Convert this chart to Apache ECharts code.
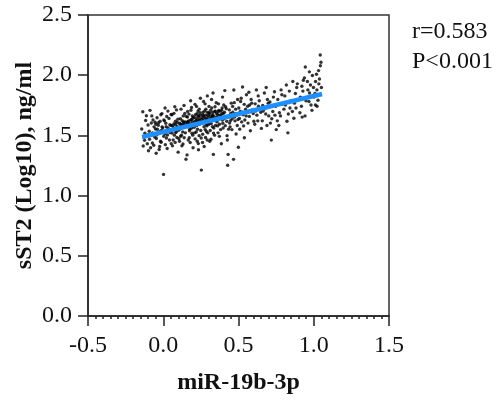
<!DOCTYPE html>
<html>
<head>
<meta charset="utf-8">
<script src="https://cdn.jsdelivr.net/npm/echarts@6/dist/echarts.min.js"></script>
<style>
html,body{margin:0;padding:0;background:#fff;}
#chart{width:499px;height:402px;}
</style>
</head>
<body>
<div id="chart"></div>
<script>
// miR-19b-3p (x) vs sST2 Log10 (y)
var points = [
[-0.143,1.553],[-0.128,1.482],[-0.117,1.624],[-0.136,1.697],[-0.106,1.431],[-0.122,1.518],[-0.101,1.586],[-0.133,1.412],[-0.112,1.663],[-0.124,1.459],[-0.097,1.507],
[-0.088,1.708],[-0.079,1.603],[-0.072,1.437],[-0.093,1.534],[-0.061,1.571],[-0.084,1.398],[-0.068,1.628],[-0.057,1.487],[-0.091,1.468],[-0.052,1.553],[-0.076,1.662],[-0.063,1.418],[-0.071,1.521],[-0.054,1.609],[-0.098,1.372],
[-0.044,1.503],[-0.033,1.584],[-0.018,1.452],[-0.041,1.647],[-0.012,1.541],[-0.027,1.383],[-0.021,1.617],[-0.046,1.474],[-0.004,1.562],[-0.009,1.681],[-0.036,1.518],[-0.024,1.408],[-0.049,1.593],[0.003,1.492],[-0.014,1.443],[-0.039,1.551],[-0.016,1.672],[-0.031,1.606],[0.004,1.628],[-0.047,1.352],
[0.012,1.728],[0.002,1.176],[0.019,1.572],[0.028,1.503],[0.008,1.621],[0.041,1.462],[0.023,1.657],[0.034,1.534],[0.044,1.588],[0.014,1.423],[0.049,1.547],[0.021,1.478],[0.031,1.702],[0.038,1.641],[0.011,1.512],[0.053,1.432],[0.017,1.601],[0.026,1.391],[0.046,1.523],[0.052,1.673],[0.024,1.541],
[0.061,1.413],[0.072,1.598],[0.083,1.524],[0.058,1.671],[0.091,1.483],[0.069,1.562],[0.097,1.634],[0.079,1.442],[0.063,1.581],[0.088,1.712],[0.074,1.502],[0.102,1.543],[0.081,1.618],[0.066,1.462],[0.094,1.572],[0.099,1.361],[0.071,1.683],[0.086,1.531],[0.093,1.607],[0.059,1.519],[0.104,1.472],[0.077,1.738],
[0.112,1.593],[0.121,1.502],[0.133,1.662],[0.108,1.451],[0.142,1.574],[0.118,1.718],[0.129,1.529],[0.148,1.612],[0.114,1.638],[0.139,1.481],[0.123,1.563],[0.131,1.428],[0.151,1.302],[0.143,1.682],[0.106,1.551],[0.126,1.622],[0.136,1.583],[0.147,1.521],[0.138,1.748],[0.116,1.493],[0.124,1.413],[0.134,1.601],[0.153,1.658],
[0.158,1.338],[0.168,1.621],[0.177,1.552],[0.162,1.698],[0.186,1.594],[0.173,1.481],[0.197,1.643],[0.182,1.788],[0.164,1.572],[0.191,1.518],[0.171,1.677],[0.179,1.441],[0.201,1.583],[0.159,1.608],[0.188,1.732],[0.174,1.539],[0.183,1.628],[0.196,1.502],[0.166,1.462],[0.193,1.661],[0.169,1.592],[0.184,1.709],[0.198,1.398],[0.189,1.561],[0.161,1.652],
[0.208,1.613],[0.219,1.528],[0.231,1.702],[0.212,1.471],[0.242,1.639],[0.223,1.582],[0.247,1.808],[0.228,1.551],[0.214,1.672],[0.238,1.498],[0.221,1.741],[0.251,1.603],[0.233,1.432],[0.206,1.568],[0.244,1.689],[0.217,1.622],[0.249,1.541],[0.236,1.663],[0.211,1.758],[0.241,1.592],[0.226,1.452],[0.253,1.212],[0.229,1.628],[0.239,1.718],[0.209,1.521],[0.224,1.681],[0.252,1.479],[0.234,1.381],
[0.258,1.648],[0.271,1.572],[0.283,1.718],[0.262,1.509],[0.291,1.633],[0.268,1.782],[0.302,1.591],[0.279,1.548],[0.264,1.692],[0.293,1.828],[0.274,1.612],[0.298,1.668],[0.281,1.482],[0.256,1.601],[0.287,1.532],[0.276,1.703],[0.304,1.741],[0.284,1.638],[0.261,1.441],[0.289,1.579],[0.269,1.662],[0.296,1.521],[0.278,1.762],[0.266,1.618],[0.294,1.691],[0.272,1.408],[0.301,1.622],[0.286,1.593],[0.292,1.462],
[0.308,1.682],[0.319,1.598],[0.331,1.852],[0.312,1.541],[0.338,1.658],[0.322,1.728],[0.349,1.621],[0.327,1.572],[0.314,1.708],[0.341,1.502],[0.324,1.642],[0.352,1.771],[0.333,1.342],[0.306,1.603],[0.343,1.698],[0.317,1.468],[0.347,1.583],[0.329,1.671],[0.311,1.632],[0.336,1.562],[0.321,1.798],[0.354,1.682],[0.334,1.519],[0.344,1.738],[0.309,1.451],[0.326,1.661],
[0.358,1.612],[0.369,1.708],[0.381,1.548],[0.362,1.672],[0.392,1.628],[0.373,1.492],[0.402,1.752],[0.384,1.661],[0.361,1.579],[0.394,1.818],[0.371,1.643],[0.398,1.562],[0.378,1.702],[0.364,1.521],[0.389,1.681],[0.374,1.592],[0.404,1.638],[0.386,1.431],[0.391,1.728],[0.367,1.762],[0.396,1.601],
[0.409,1.872],[0.418,1.658],[0.431,1.342],[0.428,1.252],[0.412,1.581],[0.439,1.712],[0.422,1.618],[0.448,1.682],[0.434,1.552],[0.414,1.738],[0.441,1.602],[0.424,1.498],[0.452,1.768],[0.436,1.652],[0.407,1.692],[0.444,1.571],[0.419,1.722],[0.447,1.623],[0.426,1.462],[0.437,1.661],
[0.467,1.301],[0.469,1.877],[0.458,1.638],[0.481,1.718],[0.492,1.582],[0.462,1.692],[0.499,1.402],[0.477,1.621],[0.472,1.772],[0.488,1.668],[0.456,1.548],[0.502,1.728],[0.484,1.512],[0.474,1.652],[0.494,1.798],[0.497,1.632],[0.461,1.741],[0.479,1.681],
[0.527,1.902],[0.512,1.698],[0.521,1.612],[0.538,1.758],[0.508,1.552],[0.531,1.671],[0.547,1.718],[0.518,1.808],[0.542,1.628],[0.514,1.782],[0.534,1.579],[0.551,1.662],[0.524,1.692],[0.539,1.481],[0.553,1.838],[0.506,1.641],
[0.561,1.742],[0.572,1.658],[0.584,1.798],[0.563,1.602],[0.591,1.712],[0.569,1.858],[0.598,1.681],[0.579,1.538],[0.588,1.768],[0.558,1.692],[0.602,1.618],[0.574,1.752],[0.582,1.702],
[0.611,1.762],[0.622,1.668],[0.631,1.828],[0.608,1.592],[0.641,1.718],[0.619,1.878],[0.648,1.692],[0.628,1.621],[0.638,1.788],[0.614,1.702],[0.652,1.558],[0.633,1.742],
[0.661,1.748],[0.672,1.852],[0.681,1.678],[0.658,1.621],[0.692,1.798],[0.668,1.718],[0.701,1.662],[0.684,1.898],[0.689,1.582],[0.697,1.768],[0.664,1.702],
[0.718,1.461],[0.709,1.778],[0.728,1.698],[0.739,1.862],[0.721,1.638],[0.748,1.742],[0.712,1.602],[0.732,1.818],[0.742,1.668],[0.751,1.548],
[0.761,1.798],[0.772,1.688],[0.783,1.878],[0.758,1.621],[0.791,1.758],[0.768,1.582],[0.802,1.718],[0.779,1.662],[0.788,1.838],
[0.812,1.752],[0.818,1.918],[0.831,1.678],[0.808,1.828],[0.842,1.728],[0.822,1.618],[0.848,1.788],[0.828,1.521],[0.838,1.868],
[0.861,1.948],[0.872,1.768],[0.878,1.848],[0.858,1.698],[0.891,1.928],[0.868,1.642],[0.898,1.798],[0.882,1.728],[0.887,1.898],
[0.911,1.818],[0.918,1.742],[0.931,1.958],[0.938,1.978],[0.908,1.688],[0.928,1.868],[0.948,1.788],[0.921,1.908],[0.942,1.662],[0.944,2.068],[0.923,1.652],
[0.961,1.878],[0.968,1.782],[0.978,1.918],[0.988,1.708],[0.958,1.948],[0.972,1.852],[0.998,1.898],[0.982,1.752],[0.991,1.998],[1.002,1.818],[0.971,2.028],
[1.043,2.168],[1.048,2.108],[1.032,2.038],[1.012,1.948],[1.021,1.878],[1.028,1.792],[1.038,1.968],[1.018,2.008],[1.051,1.898],[1.008,1.848],[1.034,1.928],[1.041,1.838],[1.022,1.742],[1.011,1.752],[1.044,2.078],
[0.152,1.588],[0.163,1.612],[0.176,1.598],[0.187,1.631],[0.194,1.612],[0.203,1.652],[0.213,1.598],[0.218,1.642],[0.227,1.611],[0.232,1.658],[0.243,1.622],[0.248,1.668],[0.257,1.631],[0.263,1.672],[0.268,1.622],[0.273,1.648],[0.282,1.668],[0.288,1.612],[0.297,1.652],[0.303,1.688],[0.313,1.658],[0.318,1.621],[0.328,1.692],[0.337,1.638],[0.346,1.702],[0.356,1.652],[0.366,1.698],[0.377,1.668],[0.388,1.708],[0.399,1.682],[0.053,1.582],[0.068,1.548],[0.082,1.588],[0.096,1.552],[0.109,1.602],[0.122,1.588],[0.137,1.612],[-0.022,1.532],[-0.008,1.571],[0.032,1.562]
];
// regression line end points
var fitLine = [[-0.14, 1.487], [1.055, 1.844]];
var xTicks = [-0.5, 0.0, 0.5, 1.0, 1.5];
var yTicks = [0.0, 0.5, 1.0, 1.5, 2.0, 2.5];
var statsText = ['r=0.583', 'P<0.001'];
var xTitle = 'miR-19b-3p';
var yTitle = 'sST2 (Log10), ng/ml';

var FONT = '"Liberation Serif", "Times New Roman", serif';
var chart = echarts.init(document.getElementById('chart'), null, {renderer: 'canvas'});
chart.setOption({
  animation: false,
  backgroundColor: '#fff',
  grid: {left: 88, right: 110, top: 15, bottom: 86, show: true, borderColor: '#333', borderWidth: 1.5, backgroundColor: 'transparent'},
  xAxis: {
    type: 'value', min: xTicks[0], max: xTicks[xTicks.length - 1], interval: 0.5,
    name: xTitle, nameLocation: 'middle', nameGap: 55, nameMoveOverlap: false,
    nameTextStyle: {fontFamily: FONT, fontWeight: 'bold', fontSize: 24, color: '#111'},
    axisLine: {show: true, onZero: false, lineStyle: {color: '#222', width: 1.5}},
    axisTick: {show: true, length: 10, lineStyle: {color: '#222', width: 1.5}},
    minorTick: {show: true, splitNumber: 10, length: 3, lineStyle: {color: '#222', width: 1.5}},
    axisLabel: {fontFamily: FONT, fontSize: 24, color: '#111', margin: 18, formatter: function (v) { return v.toFixed(1); }},
    splitLine: {show: false}
  },
  yAxis: {
    type: 'value', min: yTicks[0], max: yTicks[yTicks.length - 1], interval: 0.5,
    name: yTitle, nameLocation: 'middle', nameGap: 51, nameRotate: 90, nameMoveOverlap: false,
    nameTextStyle: {fontFamily: FONT, fontWeight: 'bold', fontSize: 24, color: '#111'},
    axisLine: {show: true, onZero: false, lineStyle: {color: '#222', width: 1.5}},
    axisTick: {show: true, length: 10, lineStyle: {color: '#222', width: 1.5}},
    axisLabel: {fontFamily: FONT, fontSize: 24, color: '#111', margin: 16, formatter: function (v) { return v.toFixed(1); }},
    splitLine: {show: false}
  },
  series: [
    {type: 'scatter', data: points, symbolSize: 3.4, itemStyle: {color: '#000'}, z: 2},
    {type: 'line', data: fitLine, showSymbol: false, symbol: 'none', lineStyle: {color: '#1e8fff', width: 4.5}, z: 3}
  ],
  graphic: [
    {type: 'text', left: 412, top: 20, style: {text: statsText[0], font: '24px ' + FONT, fill: '#111'}},
    {type: 'text', left: 412, top: 50, style: {text: statsText[1], font: '24px ' + FONT, fill: '#111'}}
  ]
});
</script>
</body>
</html>
